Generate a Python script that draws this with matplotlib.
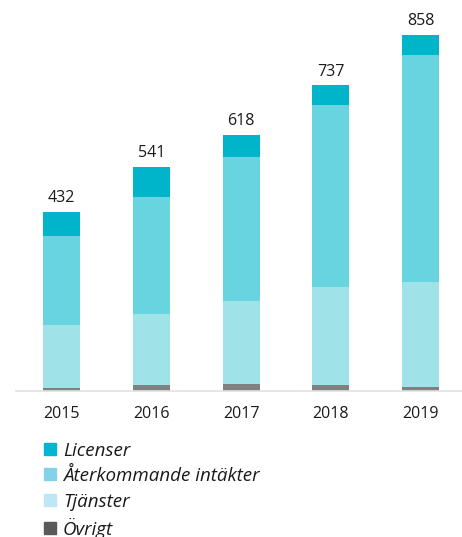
import matplotlib
matplotlib.use("Agg")
import matplotlib.pyplot as plt
from matplotlib.lines import Line2D
import numpy as np

# ========== data ==========
years = ["2015", "2016", "2017", "2018", "2019"]
ovrigt = [7, 14, 15, 13, 8]
tjanster = [152, 170, 201, 238, 254]
aterkommande = [215, 284, 347, 439, 548]
licenser = [58, 73, 55, 47, 48]
totals = [432, 541, 618, 737, 858]

series_labels = ["Licenser", "Återkommande intäkter", "Tjänster", "Övrigt"]
bar_colors = ["#00B5C9", "#68D4E0", "#9FE3E8", "#808080"]
legend_colors = ["#00B4D2", "#84D2E7", "#BEE6F3", "#5A5A5A"]

plt.rcParams['font.family'] = ['Open Sans', 'DejaVu Sans']

fig = plt.figure(figsize=(4.62, 5.37), dpi=100)
ax = fig.add_axes([16 / 462, 146.3 / 537, 446 / 462, 372.9 / 537])

x = np.arange(len(years))
w = 0.412
bottom = np.zeros(len(years))
for vals, col in [(ovrigt, bar_colors[3]), (tjanster, bar_colors[2]),
                  (aterkommande, bar_colors[1]), (licenser, bar_colors[0])]:
    ax.bar(x, vals, w, bottom=bottom, color=col, linewidth=0)
    bottom += np.array(vals)

# totals above bars
for xi, t in zip(x, totals):
    ax.text(xi, t + 14, str(t), ha='center', va='bottom', fontsize=11.5, color='#1a1a1a')

ax.set_xlim(-0.507, 4.462)
ax.set_ylim(0, 900)
ax.set_xticks(x)
ax.set_xticklabels(years, fontsize=11.5, color='#1a1a1a')
ax.tick_params(axis='x', length=0, pad=11)
ax.set_yticks([])
for s in ['top', 'right', 'left']:
    ax.spines[s].set_visible(False)
ax.spines['bottom'].set_color('#e2e2e2')
ax.spines['bottom'].set_linewidth(1.2)

handles = [Line2D([], [], marker='s', linestyle='', color=c, markersize=8)
           for c in legend_colors]
fig.legend(handles, series_labels, loc='upper left',
           bbox_to_anchor=(31 / 462, 1 - 434 / 537), frameon=False,
           prop={'style': 'italic', 'size': 13.5}, handletextpad=0.1,
           labelspacing=0.4, borderaxespad=0, handlelength=1.2,
           labelcolor='#1a1a1a')

fig.savefig("out.png", dpi=100)
